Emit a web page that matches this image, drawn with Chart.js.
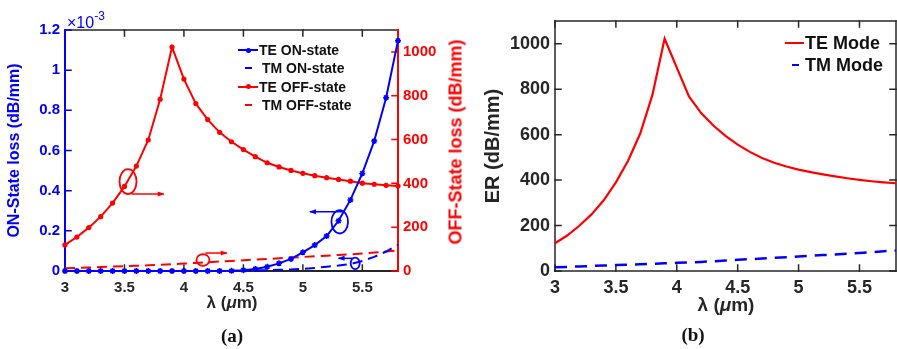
<!DOCTYPE html>
<html>
<head>
<meta charset="utf-8">
<script src="https://cdn.jsdelivr.net/npm/chart.js@4.4.1/dist/chart.umd.min.js"></script>
<style>
body{margin:0;background:#fff;width:897px;height:349px;position:relative;overflow:hidden;font-family:"Liberation Sans",Arial,sans-serif}
#wrapA{position:absolute;left:0;top:0;width:470px;height:349px}
#wrapB{position:absolute;left:470px;top:0;width:427px;height:349px}
.txt{position:absolute;white-space:nowrap;font-weight:bold;color:#262626}
.cap{position:absolute;font-family:"Liberation Serif","Times New Roman",serif;font-weight:bold;font-size:19px;color:#111;transform:translate(-50%,-50%)}
.xt{transform:translate(-50%,-50%)}
.rot{transform:translate(-50%,-50%) rotate(-90deg)}
.leg{position:absolute;font-weight:bold;color:#111}
.row{position:relative;display:flex;align-items:center}
</style>
</head>
<body>
<div id="wrapA"><canvas id="chartA" width="470" height="349"></canvas></div>
<div id="wrapB"><canvas id="chartB" width="427" height="349"></canvas></div>

<div class="txt" style="left:67px;top:11px;font-size:16px;color:#0000ff;font-weight:normal">&times;10<sup style="font-size:12px;position:relative;top:-2px">-3</sup></div>
<div class="txt rot" style="left:456px;top:142px;font-size:18px;color:#ff0000">OFF-State loss (dB/mm)</div>
<div class="txt xt" style="left:232px;top:303px;font-size:17px">&lambda; (<i>&mu;</i>m)</div>
<div class="txt xt" style="left:726px;top:305px;font-size:19px">&lambda; (<i>&mu;</i>m)</div>
<div class="cap" style="left:232px;top:336px">(a)</div>
<div class="cap" style="left:693px;top:335px">(b)</div>

<div class="leg" id="legA" style="left:238px;top:41px;font-size:14px;line-height:18.3px"></div>
<div class="leg" id="legB" style="left:785px;top:32px;font-size:18px;line-height:22px"></div>

<script>
// wavelength (um), 0.1 um steps
const lambda=[3.0,3.1,3.2,3.3,3.4,3.5,3.6,3.7,3.8,3.9,4.0,4.1,4.2,4.3,4.4,4.5,4.6,4.7,4.8,4.9,5.0,5.1,5.2,5.3,5.4,5.5,5.6,5.7,5.8]

// (a) ON-state loss, x1e-3 dB/mm
const teOn=[0,0,0,0,0,0,0,0,0,0,0,0,0,0,0.001,0.004,0.010,0.021,0.038,0.060,0.093,0.129,0.174,0.250,0.354,0.486,0.647,0.863,1.147]
const tmOn=[0,0,0,0,0,0,0,0,0,0,0,0,0,0,0.001,0.002,0.003,0.004,0.006,0.008,0.010,0.015,0.021,0.027,0.035,0.050,0.070,0.097,0.130]
// (a) OFF-state loss, dB/mm
const teOff=[119,155,198,248,310,386,479,598,784,1022,876,764,691,633,590,554,522,494,475,459,446,435,426,418,410,401,396,391,388]
const tmOff=[12,14,16,18,20,22,24,26,28,31,34,37,40,43,46,49,52,55,58,61,64,67,70,73,76,80,84,89,94]

// (b) extinction ratio, dB/mm
const erTE=[122,156,199,249,311,390,485,605,775,1022,895,768,695,640,595,556,524,497,476,460,446,435,425,416,408,401,395,390,386]
const erTM=[16,18,20,22,24,26,28,30,32,34,36,38,40,43,46,49,52,55,58,61,64,67,70,73,76,79,83,87,90]

// tick labels
const xTicks=[3,3.5,4,4.5,5,5.5]
const onTicks=[0,0.2,0.4,0.6,0.8,1,1.2]
const offTicks=[0,200,400,600,800,1000]
const erTicks=[0,200,400,600,800,1000]

const BLUE="#0000ff"
const RED="#ff0000"
const AX="#262626"

function pts(ys){return ys.map((y,i)=>({x:lambda[i],y:y}))}
function fixTicks(arr){return s=>{s.ticks=arr.map(v=>({value:v}))}}
const plain=v=>String(v)

// matlab-like box with inward ticks, plus circle/arrow marks
const matBox={
id:"matBox",
beforeDatasetsDraw(chart,args,opts){
const {ctx,chartArea:a,scales}=chart
const L=6
ctx.save()
ctx.lineCap="square"
for(const side of opts.sides){
ctx.strokeStyle=side.color
ctx.lineWidth=side.width||1.5
ctx.beginPath()
if(side.pos==="bottom"){ctx.moveTo(a.left,a.bottom);ctx.lineTo(a.right,a.bottom)}
if(side.pos==="top"){ctx.moveTo(a.left,a.top);ctx.lineTo(a.right,a.top)}
if(side.pos==="left"){ctx.moveTo(a.left,a.top);ctx.lineTo(a.left,a.bottom)}
if(side.pos==="right"){ctx.moveTo(a.right,a.top);ctx.lineTo(a.right,a.bottom)}
ctx.stroke()
const sc=scales[side.scale]
ctx.lineWidth=1.5
ctx.beginPath()
for(const t of sc.ticks){
const p=sc.getPixelForValue(t.value)
if(side.pos==="bottom"){ctx.moveTo(p,a.bottom);ctx.lineTo(p,a.bottom-L)}
if(side.pos==="top"){ctx.moveTo(p,a.top);ctx.lineTo(p,a.top+L)}
if(side.pos==="left"){ctx.moveTo(a.left,p);ctx.lineTo(a.left+L,p)}
if(side.pos==="right"){ctx.moveTo(a.right,p);ctx.lineTo(a.right-L,p)}
}
ctx.stroke()
}
ctx.restore()
},
afterDatasetsDraw(chart,args,opts){
if(!opts.marks)return
const {ctx,scales}=chart
ctx.save()
for(const m of opts.marks){
const ys=scales[m.axis],xs=scales.x
const cx=xs.getPixelForValue(m.x),cy=ys.getPixelForValue(m.y)
ctx.strokeStyle=m.color
ctx.fillStyle=m.color
ctx.lineWidth=1.8
ctx.beginPath()
ctx.ellipse(cx,cy,m.rx,m.ry,0,0,Math.PI*2)
ctx.stroke()
const x1=xs.getPixelForValue(m.ax[0]),x2=xs.getPixelForValue(m.ax[1])
const ay=ys.getPixelForValue(m.ay)
ctx.lineWidth=1.5
ctx.beginPath()
ctx.moveTo(x1,ay);ctx.lineTo(x2,ay)
ctx.stroke()
const d=x2>x1?1:-1
ctx.beginPath()
ctx.moveTo(x2+d*1,ay)
ctx.lineTo(x2-d*6,ay-2.5)
ctx.lineTo(x2-d*6,ay+2.5)
ctx.closePath()
ctx.fill()
}
ctx.restore()
}
}

const titleFont=(s)=>({family:"Liberation Sans",size:s,weight:"bold"})

new Chart(document.getElementById("chartA"),{
type:"line",
data:{datasets:[
{label:"TE ON-state",data:pts(teOn),yAxisID:"yL",borderColor:BLUE,backgroundColor:BLUE,borderWidth:2,pointStyle:"star",pointRadius:3,pointBorderWidth:1.5,clip:8},
{label:"TM ON-state",data:pts(tmOn),yAxisID:"yL",borderColor:BLUE,borderWidth:2,borderDash:[10,6],pointRadius:0,clip:8},
{label:"TE OFF-state",data:pts(teOff),yAxisID:"yR",borderColor:RED,backgroundColor:RED,borderWidth:2,pointRadius:2.6,pointBorderWidth:0,clip:8},
{label:"TM OFF-state",data:pts(tmOff),yAxisID:"yR",borderColor:RED,borderWidth:2,borderDash:[10,6],pointRadius:0,clip:8}
]},
options:{
responsive:false,animation:false,
layout:{padding:{top:30,left:0,right:0,bottom:0}},
plugins:{legend:{display:false},tooltip:{enabled:false},
matBox:{
sides:[
{pos:"bottom",scale:"x",color:AX,width:2},
{pos:"top",scale:"x",color:AX},
{pos:"left",scale:"yL",color:BLUE,width:2},
{pos:"right",scale:"yR",color:RED,width:2}
],
marks:[
{axis:"yR",x:3.53,y:408,rx:8.5,ry:12.5,ax:[3.56,3.83],ay:351,color:RED},
{axis:"yR",x:4.16,y:50,rx:6.5,ry:5.8,ax:[4.18,4.36],ay:82,color:RED},
{axis:"yL",x:5.31,y:0.245,rx:8.3,ry:11.7,ax:[5.33,5.06],ay:0.295,color:BLUE},
{axis:"yL",x:5.44,y:0.038,rx:4.5,ry:5.8,ax:[5.42,5.30],ay:0.063,color:BLUE}
]}},
scales:{
x:{type:"linear",position:"bottom",min:3,max:5.8,afterBuildTicks:fixTicks(xTicks),
afterFit:s=>{s.height=78},
grid:{display:false,drawTicks:false},border:{display:false},
ticks:{color:AX,font:titleFont(15),padding:8,maxRotation:0,callback:plain}},
yL:{position:"left",min:0,max:1.2,afterBuildTicks:fixTicks(onTicks),
afterFit:s=>{s.width=65},
grid:{display:false,drawTicks:false},border:{display:false},
ticks:{color:BLUE,font:titleFont(15),padding:5,callback:plain},
title:{display:true,text:"ON-State loss (dB/mm)",color:BLUE,font:titleFont(16),padding:{top:5}}},
yR:{position:"right",min:0,max:1100,afterBuildTicks:fixTicks(offTicks),
afterFit:s=>{s.width=72},
grid:{display:false,drawTicks:false},border:{display:false},
ticks:{color:RED,font:titleFont(15),padding:5,callback:plain}}
}
},
plugins:[matBox]
})

new Chart(document.getElementById("chartB"),{
type:"line",
data:{datasets:[
{label:"TE Mode",data:pts(erTE),borderColor:RED,borderWidth:2.2,pointRadius:0,clip:8},
{label:"TM Mode",data:pts(erTM),borderColor:BLUE,borderWidth:2.5,borderDash:[12,8],pointRadius:0,clip:8}
]},
options:{
responsive:false,animation:false,
layout:{padding:{top:21,left:0,right:1,bottom:0}},
plugins:{legend:{display:false},tooltip:{enabled:false},
matBox:{sides:[
{pos:"bottom",scale:"x",color:AX},
{pos:"top",scale:"x",color:AX},
{pos:"left",scale:"y",color:AX},
{pos:"right",scale:"y",color:AX}
]}},
scales:{
x:{type:"linear",position:"bottom",min:3,max:5.8,afterBuildTicks:fixTicks(xTicks),
afterFit:s=>{s.height=78},
grid:{display:false,drawTicks:false},border:{display:false},
ticks:{color:AX,font:titleFont(18),padding:6,maxRotation:0,callback:plain}},
y:{position:"left",min:0,max:1100,afterBuildTicks:fixTicks(erTicks),
afterFit:s=>{s.width=85},
grid:{display:false,drawTicks:false},border:{display:false},
ticks:{color:AX,font:titleFont(18),padding:5,callback:plain},
title:{display:true,text:"ER (dB/mm)",color:AX,font:titleFont(20),padding:{top:11}}}
}
},
plugins:[matBox]
})

// legends built from dataset labels
function legend(id,items,w,fs,dashPad){
const el=document.getElementById(id)
for(const it of items){
const row=document.createElement("div")
row.className="row"
const box=document.createElement("span")
box.style.cssText="position:relative;display:inline-block;width:"+w+"px;height:"+fs+"px;margin-right:1px"
const ln=document.createElement("span")
if(it.dash){
ln.style.cssText="position:absolute;top:50%;left:"+(w/2-3)+"px;width:7px;height:2px;margin-top:-1px;background:"+it.color
}else{
ln.style.cssText="position:absolute;top:50%;left:0;width:"+w+"px;height:2px;margin-top:-1px;background:"+it.color
}
box.appendChild(ln)
if(it.mark){
const mk=document.createElement("span")
mk.style.cssText="position:absolute;top:50%;left:"+(w/2-2.5)+"px;width:5px;height:5px;margin-top:-2.5px;border-radius:50%;background:"+it.color
box.appendChild(mk)
}
row.appendChild(box)
const t=document.createElement("span")
t.textContent=it.label
if(it.dash)t.style.paddingLeft=dashPad+"px"
row.appendChild(t)
el.appendChild(row)
}
}
legend("legA",[
{label:"TE ON-state",color:BLUE,mark:true},
{label:"TM ON-state",color:BLUE,dash:true},
{label:"TE OFF-state",color:RED,mark:true},
{label:"TM OFF-state",color:RED,dash:true}
],20,14,3)
legend("legB",[
{label:"TE Mode",color:RED},
{label:"TM Mode",color:BLUE,dash:true}
],19,18,0)
</script>
</body>
</html>
